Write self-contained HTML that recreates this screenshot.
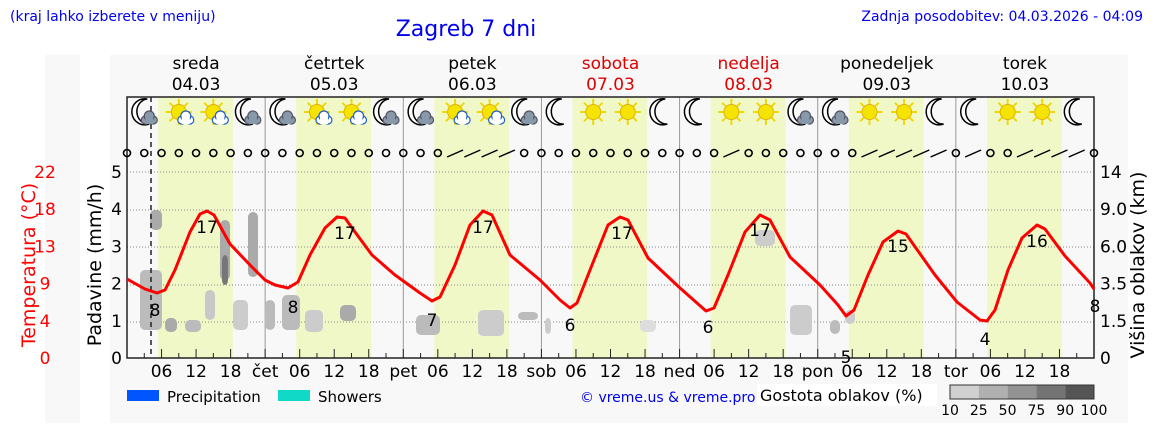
<!DOCTYPE html>
<html><head><meta charset="utf-8">
<style>
html,body{margin:0;padding:0;background:#fff;}
svg{display:block;font-family:"DejaVu Sans","Liberation Sans",sans-serif;}
</style></head>
<body>
<svg id="s" width="1152" height="443" viewBox="0 0 1152 443" xmlns="http://www.w3.org/2000/svg">
<rect x="45" y="55" width="35" height="368" fill="#f8f8f8"/>
<rect x="110" y="55" width="1018" height="368" fill="#f8f8f8"/>
<text x="10" y="21" font-size="14" fill="#0000ee">(kraj lahko izberete v meniju)</text>
<text x="466" y="36" font-size="22" fill="#0000ee" text-anchor="middle">Zagreb 7 dni</text>
<text x="1143" y="21" font-size="14" fill="#0000ee" text-anchor="end">Zadnja posodobitev: 04.03.2026 - 04:09</text>
<g id="g"></g>
</svg>
<script>
var NS="http://www.w3.org/2000/svg",g=document.getElementById("g");
function el(t,a,txt){var e=document.createElementNS(NS,t);for(var k in a)e.setAttribute(k,a[k]);if(txt!=null)e.textContent=txt;g.appendChild(e);return e;}
var X0=127,X1=1094,D=(X1-X0)/7,H=D/24;
function hx(h){return X0+h*H;}
el("rect",{x:X0,y:97,width:X1-X0,height:261,fill:"#f8f8f8"});
for(var d=0;d<7;d++){el("rect",{x:hx(d*24+5.4),y:97,width:13*H,height:261,fill:"#f0f8c8"});}
[172,210,247,285,322].forEach(function(y){el("line",{x1:X0,x2:X1,y1:y,y2:y,stroke:"#888","stroke-width":1,"stroke-dasharray":"1,2"});});
for(var d=1;d<7;d++)el("line",{x1:hx(d*24),x2:hx(d*24),y1:97,y2:358,stroke:"#999","stroke-width":1});
var bl=[[140,270,22,60,"#bbb"],[150,210,12,20,"#aaa"],[165,318,12,14,"#aaa"],[185,320,16,12,"#bbb"],[205,290,10,30,"#c8c8c8"],[220,220,10,60,"#aaa"],[222,255,6,30,"#777"],[233,300,15,30,"#ccc"],[248,212,10,65,"#aaa"],[265,300,10,30,"#bbb"],[282,295,18,35,"#bbb"],[305,310,18,22,"#ccc"],[340,305,16,16,"#aaa"],[416,315,24,20,"#bbb"],[478,310,26,26,"#ccc"],[518,312,20,8,"#bbb"],[545,318,6,16,"#ccc"],[640,320,16,12,"#ddd"],[755,230,20,16,"#ccc"],[790,305,22,30,"#ccc"],[830,320,10,14,"#bbb"],[845,310,10,14,"#ccc"]];
bl.forEach(function(b){el("rect",{x:b[0],y:b[1],width:b[2],height:b[3],rx:5,fill:b[4]});});
el("rect",{x:X0,y:97,width:X1-X0,height:261,fill:"none",stroke:"#222","stroke-width":1.5});
el("line",{x1:151,x2:151,y1:97,y2:358,stroke:"#222","stroke-width":1.5,"stroke-dasharray":"5,4"});
var ic="MSSMMSSMMSSMMSSMMSSMMSSMMSSM";
var cl=[1,1,1,1,1,1,1,1,1,1,1,1,0,0,0,0,0,0,0,1,1,0,0,0,0,0,0,0];
function cloud(x,y,f,s){el("circle",{cx:x-4,cy:y+1,r:4,fill:f,stroke:s,"stroke-width":1.2});el("circle",{cx:x+4,cy:y+1,r:4,fill:f,stroke:s,"stroke-width":1.2});el("circle",{cx:x,cy:y-3,r:5,fill:f,stroke:s,"stroke-width":1.2});el("rect",{x:x-4,y:y-1,width:8,height:6,fill:f});}
for(var i=0;i<28;i++){var cx=hx(3+6*i),cy=112;
 if(ic[i]=="S"){for(var r=0;r<8;r++){var a=r*Math.PI/4;el("line",{x1:cx+Math.cos(a)*8,y1:cy+Math.sin(a)*8,x2:cx+Math.cos(a)*13,y2:cy+Math.sin(a)*13,stroke:"#f0d800","stroke-width":2});}
  el("circle",{cx:cx,cy:cy,r:7.5,fill:"#f5e400",stroke:"#e0b000","stroke-width":1});
  if(cl[i])cloud(cx+7,cy+7,"#fff","#2060c0");}
 else{el("path",{d:"M"+(cx+3)+","+(cy-13)+" A13,13 0 1,0 "+(cx+5)+","+(cy+12)+" A10,11 0 0,1 "+(cx+3)+","+(cy-13)+"Z",fill:"#fff",stroke:"#000","stroke-width":1.5});
  if(cl[i])cloud(cx+5,cy+7,"#8899aa","#556");}
}
var barb={19:1,20:1,21:1,22:1,35:1,43:1,44:1,45:1,46:1,47:1,49:1,52:1,53:1,54:1,55:1,59:1};
for(var i=0;i<=56;i++){var x=hx(3*i);if(barb[i]){el("line",{x1:x-8,y1:157,x2:x+8,y2:150,stroke:"#000","stroke-width":1.5});}else el("circle",{cx:x,cy:153,r:3.5,fill:"none",stroke:"#000","stroke-width":1.6});}
for(var h=0;h<=168;h+=3){el("line",{x1:hx(h),x2:hx(h),y1:358,y2:(h%6?353:349),stroke:"#222","stroke-width":1});}
var dn=["","čet","pet","sob","ned","pon","tor"];
for(var d=0;d<7;d++){if(d)el("text",{x:hx(24*d),y:377,"font-size":17,"text-anchor":"middle"},dn[d]);
 ["06","12","18"].forEach(function(t,j){el("text",{x:hx(24*d+6+6*j),y:377,"font-size":17,"text-anchor":"middle"},t);});}
var days=[["sreda","04.03",0],["četrtek","05.03",0],["petek","06.03",0],["sobota","07.03",1],["nedelja","08.03",1],["ponedeljek","09.03",0],["torek","10.03",0]];
days.forEach(function(v,d){var c=v[2]?"#e00000":"#000",x=hx(24*d+12);el("text",{x:x,y:69,"font-size":17,"text-anchor":"middle",fill:c},v[0]);el("text",{x:x,y:90,"font-size":17,"text-anchor":"middle",fill:c},v[1]);});
["0","1","2","3","4","5"].forEach(function(t,i){el("text",{x:122,y:364-i*37.2,"font-size":17,"text-anchor":"end"},t);});
["0","4","9","13","18","22"].forEach(function(t,i){el("text",{x:45,y:364-i*37.2,"font-size":17,"text-anchor":"middle",fill:"#f00"},t);});
["0","1.5","3.5","6.0","9.0","14"].forEach(function(t,i){el("text",{x:1100,y:364-i*37.2,"font-size":17,fill:"#000"},t);});
el("text",{x:0,y:0,"font-size":19,"text-anchor":"middle",transform:"translate(101,265) rotate(-90)"},"Padavine (mm/h)");
el("text",{x:0,y:0,"font-size":19,"text-anchor":"middle",fill:"#f00",transform:"translate(35,265) rotate(-90)"},"Temperatura (°C)");
el("text",{x:0,y:0,"font-size":19,"text-anchor":"middle",transform:"translate(1144,265) rotate(-90)"},"Višina oblakov (km)");
var pts=[[127,279],[145,289],[157,293],[165,290],[175,270],[190,232],[200,214],[207,211],[214,215],[230,244],[250,265],[265,280],[275,285],[288,288],[298,282],[310,255],[325,228],[337,217],[345,218],[355,232],[372,255],[395,275],[420,293],[432,301],[440,297],[455,265],[470,225],[483,211],[492,215],[510,255],[540,280],[560,300],[570,308],[577,303],[592,265],[608,225],[620,217],[628,220],[648,258],[680,288],[706,311],[714,308],[728,275],[745,232],[760,215],[770,220],[790,257],[820,285],[838,305],[846,316],[854,310],[868,275],[883,242],[898,231],[906,234],[935,275],[957,302],[980,320],[987,321],[995,310],[1008,270],[1022,238],[1037,225],[1045,229],[1065,256],[1090,283],[1094,289]];
el("polyline",{points:pts.map(function(p){return p.join(",")}).join(" "),fill:"none",stroke:"#f00","stroke-width":3,"stroke-linejoin":"round"});
[[155,316,"8"],[207,233,"17"],[293,313,"8"],[345,239,"17"],[432,326,"7"],[483,233,"17"],[570,331,"6"],[622,239,"17"],[708,333,"6"],[760,236,"17"],[846,363,"5"],[898,252,"15"],[985,345,"4"],[1037,247,"16"],[1095,312,"8"]].forEach(function(v){el("text",{x:v[0],y:v[1],"font-size":17,"text-anchor":"middle"},v[2]);});
el("rect",{x:127,y:390,width:32,height:11,fill:"#0055ff"});el("text",{x:167,y:402,"font-size":15},"Precipitation");
el("rect",{x:278,y:390,width:32,height:11,fill:"#11d9c8"});el("text",{x:318,y:402,"font-size":15},"Showers");
el("text",{x:580,y:402,"font-size":14,fill:"#0000ee"},"© vreme.us & vreme.pro");
el("rect",{x:757,y:384,width:180,height:22,fill:"#fff"});
el("text",{x:760,y:401,"font-size":16},"Gostota oblakov (%)");
["#d0d0d0","#b0b0b0","#939393","#747474","#555"].forEach(function(c,i){el("rect",{x:950+i*28.8,y:385,width:28.8,height:14,fill:c});});
el("rect",{x:950,y:385,width:144,height:14,fill:"none",stroke:"#333"});
["10","25","50","75","90","100"].forEach(function(t,i){el("text",{x:950+i*28.8,y:415,"font-size":14,"text-anchor":"middle"},t);});
</script>
</body></html>
